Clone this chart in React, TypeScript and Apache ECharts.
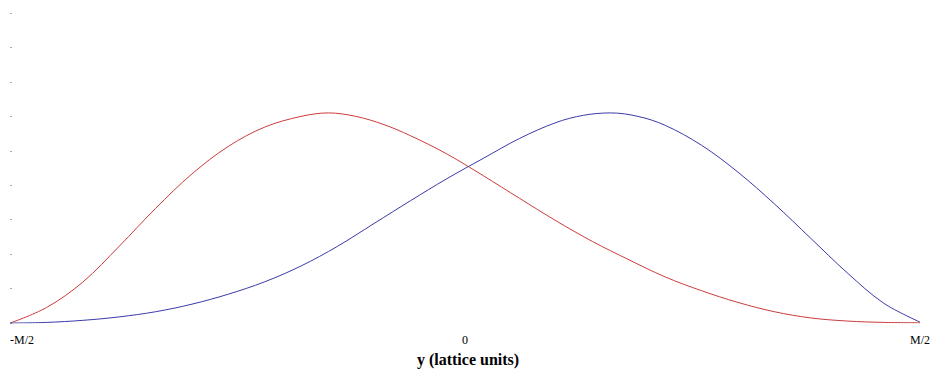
import React, { useEffect, useRef } from "react";
import * as echarts from "echarts";

// Sample positions across the lattice, as a fraction of M (−M/2 … M/2)
const redPositions = [-0.5, -0.46, -0.42, -0.38, -0.34, -0.3, -0.26, -0.22, -0.18, -0.15, -0.12, -0.09, -0.06, -0.02, 0.02, 0.06, 0.1, 0.14, 0.18, 0.22, 0.26, 0.3, 0.34, 0.38, 0.42, 0.46, 0.5];
const redValues = [0, 0.45, 1.19, 2.23, 3.33, 4.33, 5.13, 5.69, 6.0, 6.1, 6.0, 5.77, 5.44, 4.91, 4.28, 3.62, 2.97, 2.37, 1.84, 1.34, 0.94, 0.6, 0.33, 0.15, 0.06, 0.02, 0.01];

const bluePositions = [-0.5, -0.46, -0.42, -0.38, -0.34, -0.3, -0.26, -0.22, -0.18, -0.14, -0.1, -0.06, -0.02, 0.02, 0.06, 0.1, 0.13, 0.16, 0.19, 0.22, 0.26, 0.3, 0.34, 0.38, 0.42, 0.46, 0.5];
const blueValues = [0, 0.02, 0.08, 0.18, 0.33, 0.55, 0.84, 1.2, 1.66, 2.23, 2.89, 3.55, 4.19, 4.78, 5.36, 5.82, 6.03, 6.1, 6.0, 5.74, 5.16, 4.38, 3.46, 2.46, 1.46, 0.58, 0.03];

const tickLabels: Record<string, string> = { "-0.5": "-M/2", "0": "0", "0.5": "M/2" };

const SERIF = "'Liberation Serif', 'DejaVu Serif', serif";

export default function App() {
  const ref = useRef<HTMLDivElement>(null);

  useEffect(() => {
    if (!ref.current) return;
    const chart = echarts.init(ref.current, null, { renderer: "svg" });
    const pair = (xs: number[], ys: number[]) => xs.map((x, i) => [x, ys[i]]);
    chart.setOption({
      animation: false,
      backgroundColor: "#ffffff",
      grid: { left: 10, right: 7, top: 13, bottom: 48.5 },
      xAxis: {
        type: "value",
        min: -0.5,
        max: 0.5,
        interval: 0.5,
        name: "y (lattice units)",
        nameLocation: "middle",
        nameGap: 24,
        nameTextStyle: { fontFamily: SERIF, fontSize: 16, fontWeight: "bold", color: "#000", padding: [0, 0, 0, 6] },
        axisLine: { show: false },
        axisTick: { show: false },
        splitLine: { show: false },
        axisLabel: {
          fontFamily: SERIF,
          fontSize: 12,
          color: "#000",
          margin: 11,
          alignMinLabel: "left",
          alignMaxLabel: "center",
          formatter: (v: number) => tickLabels[String(v)] ?? "",
        },
      },
      yAxis: {
        type: "value",
        min: 0,
        max: 9,
        interval: 1,
        axisLine: { show: false, onZero: false },
        axisLabel: { show: false },
        splitLine: { show: false },
        axisTick: { show: true, inside: true, length: 2, lineStyle: { color: "#aaaaaa", width: 1 } },
      },
      series: [
        {
          type: "line",
          data: pair(redPositions, redValues),
          smooth: 0.35,
          showSymbol: false,
          lineStyle: { color: "#cc3b3b", width: 1 },
        },
        {
          type: "line",
          data: pair(bluePositions, blueValues),
          smooth: 0.35,
          showSymbol: false,
          lineStyle: { color: "#3a3aa8", width: 1 },
        },
      ],
    });
    return () => chart.dispose();
  }, []);

  return <div ref={ref} style={{ width: 933, height: 372, position: "absolute", left: 0, top: 0 }} />;
}
